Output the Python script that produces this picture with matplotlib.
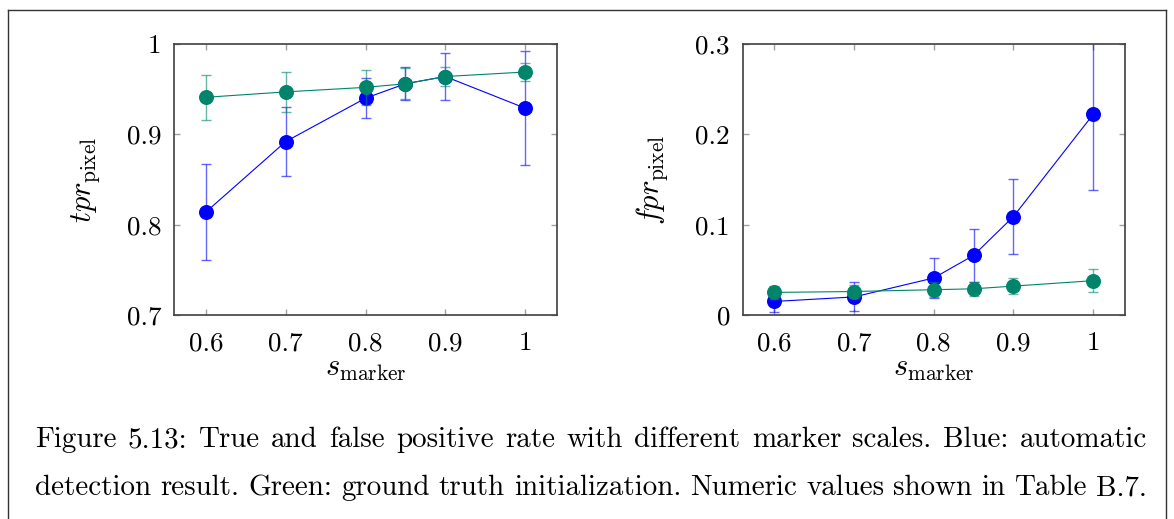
import matplotlib
matplotlib.use("Agg")
import matplotlib.pyplot as plt
from matplotlib.lines import Line2D
from matplotlib.ticker import FuncFormatter

plt.rcParams["font.family"] = "serif"
plt.rcParams["font.serif"] = ["cmr10"]
plt.rcParams["mathtext.fontset"] = "cm"
plt.rcParams["axes.formatter.use_mathtext"] = True

# marker scales
scales = [0.6, 0.7, 0.8, 0.85, 0.9, 1.0]

# true positive rate (left)
tpr_auto = [0.814, 0.892, 0.940, 0.956, 0.964, 0.929]
tpr_auto_err = [0.053, 0.038, 0.022, 0.018, 0.026, 0.063]
tpr_gt = [0.941, 0.947, 0.952, 0.956, 0.964, 0.969]
tpr_gt_err = [0.025, 0.022, 0.019, 0.017, 0.011, 0.010]

# false positive rate (right)
fpr_auto = [0.015, 0.020, 0.041, 0.066, 0.109, 0.222]
fpr_auto_err = [0.012, 0.016, 0.022, 0.029, 0.042, 0.084]
fpr_gt = [0.025, 0.026, 0.028, 0.029, 0.032, 0.038]
fpr_gt_err = [0.007, 0.007, 0.008, 0.008, 0.009, 0.013]

caption = [
    "Figure 5.13: True and false positive rate with different marker scales. Blue: automatic",
    "detection result. Green: ground truth initialization. Numeric values shown in Table B.7.",
]

blue = "#0000ff"
green = "#00856b"

W, H = 1174, 519
fig = plt.figure(figsize=(W / 100, H / 100), dpi=100)
ax1 = fig.add_axes([174 / W, 1 - 315 / H, 383 / W, 271 / H])
ax2 = fig.add_axes([742.5 / W, 1 - 315 / H, 382.5 / W, 271 / H])


def draw_series(ax, y, err, color):
    ax.errorbar(scales, y, yerr=err, fmt="none", ecolor=color, alpha=0.6,
                elinewidth=1.0, capsize=3.5, capthick=1.0)
    ax.plot(scales, y, color=color, lw=0.8, marker="o", markersize=10.8,
            markeredgewidth=0)


draw_series(ax1, tpr_auto, tpr_auto_err, blue)
draw_series(ax1, tpr_gt, tpr_gt_err, green)
draw_series(ax2, fpr_auto, fpr_auto_err, blue)
draw_series(ax2, fpr_gt, fpr_gt_err, green)

ax1.set_ylim(0.7, 1.0)
ax1.set_yticks([0.7, 0.8, 0.9, 1.0])
ax2.set_ylim(0, 0.3)
ax2.set_yticks([0, 0.1, 0.2, 0.3])

fmt = FuncFormatter(lambda v, p: "%g" % round(v, 3))
for ax in (ax1, ax2):
    ax.set_xlim(0.56, 1.04)
    ax.set_xticks([0.6, 0.7, 0.8, 0.9, 1.0])
    ax.xaxis.set_major_formatter(fmt)
    ax.yaxis.set_major_formatter(fmt)
    ax.tick_params(direction="in", length=4, width=1, color="#a0a0a0",
                   top=True, right=True, labelsize=19.5)
    ax.tick_params(axis="y", pad=9)
    ax.tick_params(axis="x", pad=12)
    for sp in ax.spines.values():
        sp.set_color("#404040")
        sp.set_linewidth(1.2)
    ax.set_xlabel(r"$s_{\mathrm{marker}}$", fontsize=22, labelpad=0)

ax1.set_ylabel(r"$tpr_{\mathrm{pixel}}$", fontsize=22, labelpad=18)
ax2.set_ylabel(r"$fpr_{\mathrm{pixel}}$", fontsize=22, labelpad=18)

# page frame
fig.add_artist(Line2D([8 / W, 1166 / W], [1 - 9.5 / H, 1 - 9.5 / H],
                      transform=fig.transFigure, color="#333333", lw=1))
fig.add_artist(Line2D([8 / W, 8 / W], [0, 1 - 9.5 / H],
                      transform=fig.transFigure, color="#333333", lw=1))
fig.add_artist(Line2D([1166 / W, 1166 / W], [0, 1 - 9.5 / H],
                      transform=fig.transFigure, color="#333333", lw=1))

# justified caption lines between x=35 and x=1147
renderer = fig.canvas.get_renderer()
x0, x1 = 35, 1147
for line, yc in zip(caption, [440, 488]):
    words = line.split(" ")
    items = []
    for w in words:
        t = fig.text(0, 1 - yc / H, w, fontsize=20.9, va="center", ha="left")
        items.append((t, t.get_window_extent(renderer).width))
    gap = (x1 - x0 - sum(wd for _, wd in items)) / (len(items) - 1)
    x = x0
    for t, wd in items:
        t.set_x(x / W)
        x += wd + gap

fig.savefig("out.png", dpi=100)
